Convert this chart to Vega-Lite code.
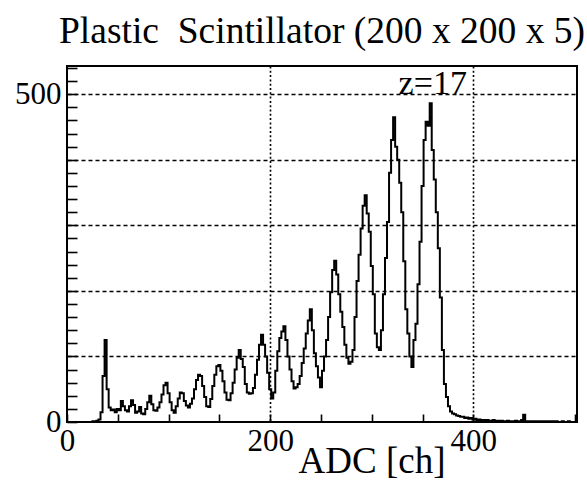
{
  "$schema": "https://vega.github.io/schema/vega-lite/v6.json",
  "width": 510,
  "height": 356,
  "autosize": "none",
  "padding": {"left": 67, "top": 66, "right": 10, "bottom": 63},
  "background": "white",
  "config": {
    "view": {"stroke": "black", "strokeWidth": 2},
    "font": "Liberation Serif"
  },
  "title": {
    "text": "Plastic\u00a0 Scintillator (200 x 200 x 5)",
    "font": "Liberation Serif",
    "fontSize": 37.5,
    "fontWeight": "normal",
    "color": "black",
    "anchor": "middle",
    "baseline": "bottom",
    "offset": 14,
    "dy": 51
  },
  "layer": [
    {
      "data": {"values": [{"ch": 360, "v": 501, "label": "z=17"}]},
      "mark": {"type": "text", "font": "Liberation Serif", "fontSize": 34, "baseline": "alphabetic", "align": "center", "color": "black"},
      "encoding": {
        "x": {"field": "ch", "type": "quantitative", "scale": {"domain": [0, 502], "nice": false, "zero": false},
              "axis": {"orient": "bottom", "values": [200, 400], "grid": true, "gridColor": "black", "gridDash": [2, 2.3], "gridWidth": 1.6, "gridOpacity": 1, "ticks": false, "labels": false, "domain": false, "title": null}},
        "y": {"field": "v", "type": "quantitative", "scale": {"domain": [0, 543], "nice": false, "zero": false},
              "axis": {"orient": "left", "values": [100, 200, 300, 400, 500], "grid": true, "gridColor": "black", "gridDash": [4, 3], "gridWidth": 1.6, "gridOpacity": 1, "ticks": false, "labels": false, "domain": false, "title": null}},
        "text": {"field": "label", "type": "nominal"}
      }
    },
    {
      "data": {"values": [
        {"ch":0,"v":0},{"ch":2,"v":0},{"ch":4,"v":0},{"ch":6,"v":0},{"ch":8,"v":0},{"ch":10,"v":0},{"ch":12,"v":0},{"ch":14,"v":0},{"ch":16,"v":0},{"ch":18,"v":0},{"ch":20,"v":0},{"ch":22,"v":0},{"ch":24,"v":0},{"ch":26,"v":1},{"ch":28,"v":1},{"ch":30,"v":2},{"ch":32,"v":4},
        {"ch":34,"v":15},{"ch":36,"v":70},{"ch":38,"v":125},{"ch":40,"v":50},{"ch":42,"v":22},{"ch":44,"v":18},{"ch":46,"v":19},{"ch":48,"v":15},{"ch":50,"v":20},{"ch":52,"v":18},{"ch":54,"v":32},{"ch":56,"v":24},{"ch":58,"v":18},{"ch":60,"v":16},{"ch":62,"v":24},{"ch":64,"v":33},{"ch":66,"v":26},{"ch":68,"v":14},{"ch":70,"v":16},{"ch":72,"v":23},{"ch":74,"v":13},{"ch":76,"v":12},{"ch":78,"v":20},{"ch":80,"v":30},{"ch":82,"v":40},{"ch":84,"v":27},{"ch":86,"v":18},{"ch":88,"v":17},{"ch":90,"v":22},{"ch":92,"v":30},{"ch":94,"v":42},{"ch":96,"v":56},{"ch":98,"v":60},
        {"ch":100,"v":44},{"ch":102,"v":30},{"ch":104,"v":18},{"ch":106,"v":14},{"ch":108,"v":24},{"ch":110,"v":36},{"ch":112,"v":45},{"ch":114,"v":44},{"ch":116,"v":32},{"ch":118,"v":25},{"ch":120,"v":22},{"ch":122,"v":28},{"ch":124,"v":36},{"ch":126,"v":50},{"ch":128,"v":64},{"ch":130,"v":72},{"ch":132,"v":70},{"ch":134,"v":55},{"ch":136,"v":38},{"ch":138,"v":24},{"ch":140,"v":23},{"ch":142,"v":35},{"ch":144,"v":55},{"ch":146,"v":72},{"ch":148,"v":85},{"ch":150,"v":87},{"ch":152,"v":78},{"ch":154,"v":62},{"ch":156,"v":45},{"ch":158,"v":34},{"ch":160,"v":33},{"ch":162,"v":44},{"ch":164,"v":60},{"ch":166,"v":80},{"ch":168,"v":98},{"ch":170,"v":110},{"ch":172,"v":96},{"ch":174,"v":84},{"ch":176,"v":58},{"ch":178,"v":45},{"ch":180,"v":43},{"ch":182,"v":44},{"ch":184,"v":52},{"ch":186,"v":72},{"ch":188,"v":95},{"ch":190,"v":118},{"ch":192,"v":133},{"ch":194,"v":118},{"ch":196,"v":100},{"ch":198,"v":75},
        {"ch":200,"v":50},{"ch":202,"v":36},{"ch":204,"v":45},{"ch":206,"v":78},{"ch":208,"v":108},{"ch":210,"v":128},{"ch":212,"v":138},{"ch":214,"v":146},{"ch":216,"v":125},{"ch":218,"v":100},{"ch":220,"v":80},{"ch":222,"v":62},{"ch":224,"v":51},{"ch":226,"v":53},{"ch":228,"v":58},{"ch":230,"v":70},{"ch":232,"v":90},{"ch":234,"v":112},{"ch":236,"v":135},{"ch":238,"v":155},{"ch":240,"v":172},{"ch":242,"v":140},{"ch":244,"v":105},{"ch":246,"v":85},{"ch":248,"v":68},{"ch":250,"v":53},{"ch":252,"v":78},{"ch":254,"v":100},{"ch":256,"v":125},{"ch":258,"v":160},{"ch":260,"v":198},{"ch":262,"v":232},{"ch":264,"v":246},{"ch":266,"v":225},{"ch":268,"v":195},{"ch":270,"v":168},{"ch":272,"v":145},{"ch":274,"v":118},{"ch":276,"v":98},{"ch":278,"v":89},{"ch":280,"v":92},{"ch":282,"v":110},{"ch":284,"v":160},{"ch":286,"v":215},{"ch":288,"v":255},{"ch":290,"v":295},{"ch":292,"v":330},{"ch":294,"v":346},{"ch":296,"v":318},{"ch":298,"v":290},
        {"ch":300,"v":238},{"ch":302,"v":195},{"ch":304,"v":135},{"ch":306,"v":114},{"ch":308,"v":110},{"ch":310,"v":140},{"ch":312,"v":195},{"ch":314,"v":250},{"ch":316,"v":305},{"ch":318,"v":380},{"ch":320,"v":430},{"ch":322,"v":465},{"ch":324,"v":420},{"ch":326,"v":400},{"ch":328,"v":365},{"ch":330,"v":320},{"ch":332,"v":245},{"ch":334,"v":172},{"ch":336,"v":135},{"ch":338,"v":100},{"ch":340,"v":84},{"ch":342,"v":125},{"ch":344,"v":150},{"ch":346,"v":210},{"ch":348,"v":275},{"ch":350,"v":360},{"ch":352,"v":430},{"ch":354,"v":458},{"ch":356,"v":452},{"ch":358,"v":486},{"ch":360,"v":415},{"ch":362,"v":370},{"ch":364,"v":320},{"ch":366,"v":265},{"ch":368,"v":190},{"ch":370,"v":110},{"ch":372,"v":58},{"ch":374,"v":38},{"ch":376,"v":24},{"ch":378,"v":16},{"ch":380,"v":13},{"ch":382,"v":12},{"ch":384,"v":10},{"ch":386,"v":9},{"ch":388,"v":8},{"ch":390,"v":8},{"ch":392,"v":6},{"ch":394,"v":7},{"ch":396,"v":5},{"ch":398,"v":6},
        {"ch":400,"v":4},{"ch":402,"v":5},{"ch":404,"v":3},{"ch":406,"v":4},{"ch":408,"v":3},{"ch":410,"v":3},{"ch":412,"v":2},{"ch":414,"v":3},{"ch":416,"v":2},{"ch":418,"v":2},{"ch":420,"v":3},{"ch":422,"v":1},{"ch":424,"v":2},{"ch":426,"v":1},{"ch":428,"v":2},{"ch":430,"v":1},{"ch":432,"v":1},{"ch":434,"v":2},{"ch":436,"v":1},{"ch":438,"v":1},{"ch":440,"v":1},{"ch":442,"v":2},{"ch":444,"v":1},{"ch":446,"v":1},{"ch":448,"v":3},{"ch":450,"v":11},{"ch":452,"v":1},{"ch":454,"v":1},{"ch":456,"v":0},{"ch":458,"v":1},{"ch":460,"v":1},{"ch":462,"v":0},{"ch":464,"v":1},{"ch":466,"v":1},{"ch":468,"v":0},{"ch":470,"v":1},{"ch":472,"v":0},{"ch":474,"v":1},{"ch":476,"v":0},{"ch":478,"v":1},{"ch":480,"v":0},{"ch":482,"v":1},{"ch":484,"v":0},{"ch":486,"v":0},{"ch":488,"v":1},{"ch":490,"v":0},{"ch":492,"v":0},{"ch":494,"v":1},{"ch":496,"v":0},{"ch":498,"v":0},{"ch":500,"v":0}
      ]},
      "mark": {"type": "line", "interpolate": "step", "color": "black", "strokeWidth": 2},
      "encoding": {
        "x": {"field": "ch", "type": "quantitative", "scale": {"domain": [0, 502], "nice": false, "zero": false},
              "axis": {"orient": "bottom", "values": [0, 50, 100, 150, 200, 250, 300, 350, 400, 450, 500], "labelExpr": "datum.value % 200 === 0 ? datum.label : ''", "grid": false, "ticks": true, "tickSize": -8, "tickColor": "black", "tickWidth": 1.6, "domain": false, "labelFont": "Liberation Serif", "labelFontSize": 31, "labelColor": "black", "labelPadding": 36, "labelBaseline": "alphabetic", "labelFlush": false, "labelOverlap": false, "title": "ADC [ch]", "titleFont": "Liberation Serif", "titleFontSize": 37, "titleFontWeight": "normal", "titleColor": "black", "titleAnchor": "end", "titleAlign": "right", "titleX": 378, "titleY": 50, "titleBaseline": "alphabetic"}},
        "y": {"field": "v", "type": "quantitative", "scale": {"domain": [0, 543], "nice": false, "zero": false},
              "axis": {"orient": "left", "values": [0,20,40,60,80,100,120,140,160,180,200,220,240,260,280,300,320,340,360,380,400,420,440,460,480,500,520,540], "labelExpr": "datum.value === 0 || datum.value === 500 ? datum.label : ''", "grid": false, "ticks": true, "tickSize": -10, "tickColor": "black", "tickWidth": 1.6, "domain": false, "labelFont": "Liberation Serif", "labelFontSize": 31, "labelColor": "black", "labelPadding": 16, "labelBaseline": "middle", "labelFlush": false, "labelOverlap": false, "title": null}}
      }
    }
  ],
  "resolve": {"axis": {"x": "independent", "y": "independent"}}
}
